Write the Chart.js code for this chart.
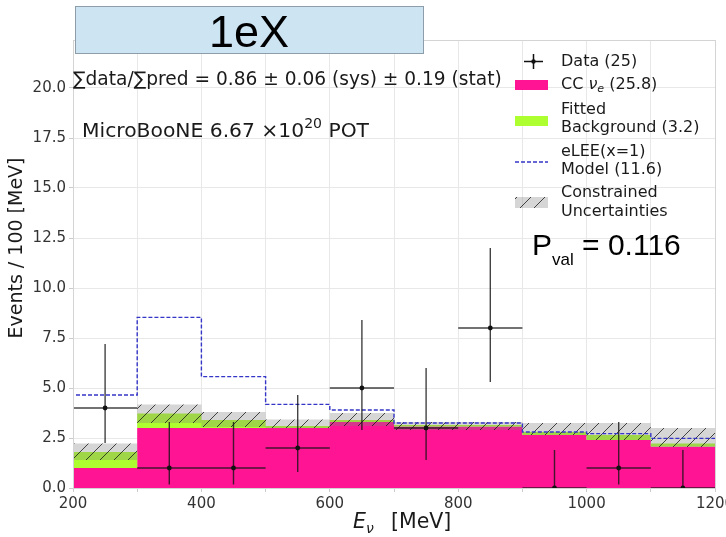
<!DOCTYPE html>
<html>
<head>
<meta charset="utf-8">
<script src="https://cdn.jsdelivr.net/npm/chart.js@4/dist/chart.umd.min.js"></script>
<style>
  html, body { margin: 0; padding: 0; background: #ffffff; overflow: hidden; width: 726px; height: 537px; }
  #wrap { position: absolute; left: 0; top: 0; width: 740px; height: 537px; }
</style>
</head>
<body>
<div id="wrap"><canvas id="c" width="740" height="537"></canvas></div>
<script>
// ---- data ----
const binEdges    = [200, 300, 400, 500, 600, 700, 800, 900, 1000, 1100, 1200];
const binCenters  = [250, 350, 450, 550, 650, 750, 850, 950, 1050, 1150];
const ccNue       = [1.0, 3.0, 3.0, 3.0, 3.3, 3.07, 3.07, 2.65, 2.4, 2.07];
const fittedBkg   = [0.8, 0.73, 0.4, 0.1, 0.1, 0.08, 0.08, 0.15, 0.25, 0.16];
const bandLow     = [1.4, 3.25, 3.05, 3.0, 3.1, 2.9, 2.9, 2.65, 2.4, 2.05];
const bandHigh    = [2.23, 4.18, 3.8, 3.43, 3.75, 3.3, 3.3, 3.25, 3.25, 3.0];
const eleeTotal   = [4.65, 8.53, 5.57, 4.18, 3.9, 3.25, 3.25, 2.8, 2.72, 2.48];
const dataCounts  = [4, 1, 1, 2, 5, 3, 8, 0, 1, 0];
const dataErrLow  = [2.25, 0.17, 0.17, 0.8, 2.9, 1.4, 5.3, 0, 0.17, 0];
const dataErrHigh = [7.2, 3.3, 3.3, 4.65, 8.4, 6.0, 12.0, 1.9, 3.3, 1.9];
const xTickStep = 100, xLabelStep = 200;
const yTickStep = 2.5;

// ---- helpers ----
function steps(vals) {
  const pts = [];
  vals.forEach((v, i) => { pts.push({x: binEdges[i], y: v}, {x: binEdges[i + 1], y: v}); });
  return pts;
}
const stackedBkg = ccNue.map((v, i) => v + fittedBkg[i]);
const eleePts = [{x: binEdges[0], y: 0}].concat(steps(eleeTotal));
const vErr = [], hErr = [], pts = [];
binCenters.forEach((c, i) => {
  vErr.push({x: c, y: dataErrLow[i]}, {x: c, y: dataErrHigh[i]}, {x: c, y: null});
  hErr.push({x: c - 50, y: dataCounts[i]}, {x: c + 50, y: dataCounts[i]}, {x: c + 50, y: null});
  pts.push({x: c, y: dataCounts[i]});
});

function makeHatch(ctx) {
  const s = 14;
  const c = document.createElement('canvas'); c.width = s; c.height = s;
  const g = c.getContext('2d');
  g.fillStyle = 'rgba(128,128,128,0.32)'; g.fillRect(0, 0, s, s);
  g.strokeStyle = 'rgba(20,20,20,0.85)'; g.lineWidth = 0.9;
  g.beginPath();
  g.moveTo(0, s); g.lineTo(s, 0);
  g.moveTo(-4, 4); g.lineTo(4, -4);
  g.moveTo(s - 4, s + 4); g.lineTo(s + 4, s - 4);
  g.stroke();
  return ctx.createPattern(c, 'repeat');
}

const PINK = '#ff1493', GREEN = '#adff2f', BLUE = '#3535c8';
const canvas = document.getElementById('c');
const hatchPattern = makeHatch(canvas.getContext('2d'));

function runs(ctx, x, y, list) {
  let cx = x;
  list.forEach(r => {
    ctx.font = r.font;
    if (r.x !== undefined) cx = r.x;
    ctx.fillText(r.t, cx, y + (r.dy || 0));
    cx += ctx.measureText(r.t).width;
  });
  return cx;
}

const DV = '"DejaVu Sans", sans-serif';
const LS = '"Liberation Sans", Arial, sans-serif';

const annot = {
  id: 'annot',
  afterDraw(chart) {
    const ctx = chart.ctx, a = chart.chartArea;
    ctx.save();
    // frame
    ctx.strokeStyle = '#d4d4d4'; ctx.lineWidth = 1;
    ctx.strokeRect(a.left + 0.5, a.top + 0.5, a.right - a.left, a.bottom - a.top);

    ctx.fillStyle = '#1a1a1a';
    ctx.textBaseline = 'alphabetic';
    ctx.textAlign = 'left';
    // summary text
    runs(ctx, 73, 85, [{t: '\u2211data/\u2211pred = 0.86 \u00b1 0.06 (sys) \u00b1 0.19 (stat)', font: '18.6px ' + DV}]);
    runs(ctx, 82, 137, [
      {t: 'MicroBooNE 6.67 \u00d710', font: '20.3px ' + DV},
      {t: '20', font: '14px ' + DV, dy: -9},
      {t: ' POT', font: '20.3px ' + DV}
    ]);

    // legend
    const hx = 515, hw = 33, tx = 561;
    ctx.textBaseline = 'middle';
    // data marker
    ctx.strokeStyle = '#111'; ctx.lineWidth = 1.5;
    ctx.beginPath(); ctx.moveTo(524, 61.5); ctx.lineTo(543, 61.5); ctx.moveTo(533.5, 54); ctx.lineTo(533.5, 69); ctx.stroke();
    ctx.beginPath(); ctx.arc(533.5, 61.5, 2.2, 0, Math.PI * 2); ctx.fillStyle = '#111'; ctx.fill();
    ctx.fillStyle = PINK; ctx.fillRect(hx, 80, hw, 10);
    ctx.fillStyle = GREEN; ctx.fillRect(hx, 116, hw, 10);
    ctx.strokeStyle = BLUE; ctx.lineWidth = 1.3; ctx.setLineDash([4, 2]);
    ctx.beginPath(); ctx.moveTo(hx, 162); ctx.lineTo(hx + hw, 162); ctx.stroke();
    ctx.setLineDash([]);
    ctx.fillStyle = hatchPattern; ctx.fillRect(hx, 197, hw, 11);

    ctx.fillStyle = '#1a1a1a';
    const lf = '16px ' + DV;
    runs(ctx, tx, 62, [{t: 'Data (25)', font: lf}]);
    runs(ctx, tx, 85, [
      {t: 'CC ', font: lf},
      {t: '\u03bd', font: 'italic 16px ' + DV},
      {t: 'e', font: 'italic 11px ' + DV, dy: 4},
      {t: ' (25.8)', font: lf}
    ]);
    runs(ctx, tx, 110, [{t: 'Fitted', font: lf}]);
    runs(ctx, tx, 128, [{t: 'Background (3.2)', font: lf}]);
    runs(ctx, tx, 152, [{t: 'eLEE(x=1)', font: lf}]);
    runs(ctx, tx, 170, [{t: 'Model (11.6)', font: lf}]);
    runs(ctx, tx, 193, [{t: 'Constrained', font: lf}]);
    runs(ctx, tx, 212, [{t: 'Uncertainties', font: lf}]);

    // p-value
    ctx.textBaseline = 'alphabetic';
    ctx.fillStyle = '#000';
    runs(ctx, 532, 255, [
      {t: 'P', font: '30px ' + LS},
      {t: 'val', font: '17px ' + LS, dy: 10},
      {t: ' = 0.116', font: '30px ' + LS}
    ]);

    // title box
    ctx.fillStyle = '#cde4f3';
    ctx.fillRect(75, 6, 348, 47);
    ctx.strokeStyle = '#8d9daa'; ctx.lineWidth = 1;
    ctx.strokeRect(75.5, 6.5, 348, 47);
    ctx.fillStyle = '#000';
    ctx.font = '45px ' + LS; ctx.textAlign = 'center';
    ctx.fillText('1eX', 249, 47);

    // axis titles
    ctx.textAlign = 'left';
    ctx.fillStyle = '#1a1a1a';
    runs(ctx, 353, 528, [
      {t: 'E', font: 'italic 20.5px ' + DV},
      {t: '\u03bd', font: 'italic 14px ' + DV, dy: 5},
      {t: '[MeV]', font: '20.5px ' + DV, x: 391}
    ]);
    ctx.save();
    ctx.translate(17, 248);
    ctx.rotate(-Math.PI / 2);
    ctx.textAlign = 'center'; ctx.textBaseline = 'middle';
    ctx.font = '19px ' + DV;
    ctx.fillText('Events / 100 [MeV]', 0, 0);
    ctx.restore();
    ctx.restore();
  }
};

new Chart(canvas, {
  type: 'scatter',
  data: {
    datasets: [
      {label: 'CC', data: steps(ccNue), showLine: true, borderWidth: 0, pointRadius: 0,
       backgroundColor: PINK, borderColor: PINK, fill: 'origin', order: 7},
      {label: 'Bkg', data: steps(stackedBkg), showLine: true, borderWidth: 0, pointRadius: 0,
       backgroundColor: GREEN, borderColor: GREEN, fill: '-1', order: 6},
      {label: 'bandLow', data: steps(bandLow), showLine: true, borderWidth: 0, pointRadius: 0,
       borderColor: 'rgba(0,0,0,0)', fill: false, order: 5},
      {label: 'bandHigh', data: steps(bandHigh), showLine: true, borderWidth: 0, pointRadius: 0,
       borderColor: 'rgba(0,0,0,0)', backgroundColor: hatchPattern, fill: '-1', order: 4},
      {label: 'eLEE', data: eleePts, showLine: true, borderWidth: 1.4, pointRadius: 0,
       borderColor: BLUE, borderDash: [4, 2], fill: false, order: 3},
      {label: 'verr', data: vErr, showLine: true, spanGaps: false, borderWidth: 1.4, pointRadius: 0,
       borderColor: 'rgba(20,20,20,0.8)', fill: false, order: 2},
      {label: 'herr', data: hErr, showLine: true, spanGaps: false, borderWidth: 1.4, pointRadius: 0,
       borderColor: 'rgba(20,20,20,0.8)', fill: false, order: 1},
      {label: 'Data', data: pts, showLine: false, pointRadius: 2.4, pointBackgroundColor: '#111',
       pointBorderWidth: 0, order: 0}
    ]
  },
  options: {
    responsive: false,
    animation: false,
    events: [],
    layout: {padding: {top: 40, right: 25, left: 0, bottom: 0}},
    plugins: {legend: {display: false}, tooltip: {enabled: false}},
    scales: {
      x: {
        type: 'linear', min: binEdges[0], max: binEdges[binEdges.length - 1],
        afterFit: s => { s.height = 49; },
        ticks: {
          stepSize: xTickStep, autoSkip: false, maxRotation: 0, padding: 3,
          color: '#333', font: {family: 'DejaVu Sans', size: 15},
          callback: v => (v % xLabelStep === 0 ? String(v) : '')
        },
        grid: {color: '#e8e8e8', tickColor: '#cccccc', tickLength: 4},
        border: {color: '#d4d4d4'}
      },
      y: {
        min: 0, max: 22.4,
        afterFit: s => { s.width = 73; },
        ticks: {
          stepSize: yTickStep, includeBounds: false, padding: 3,
          color: '#333', font: {family: 'DejaVu Sans', size: 15},
          callback: v => Number(v).toFixed(1)
        },
        grid: {color: '#e8e8e8', tickColor: '#cccccc', tickLength: 4},
        border: {color: '#d4d4d4'}
      }
    }
  },
  plugins: [annot]
});
</script>
</body>
</html>
